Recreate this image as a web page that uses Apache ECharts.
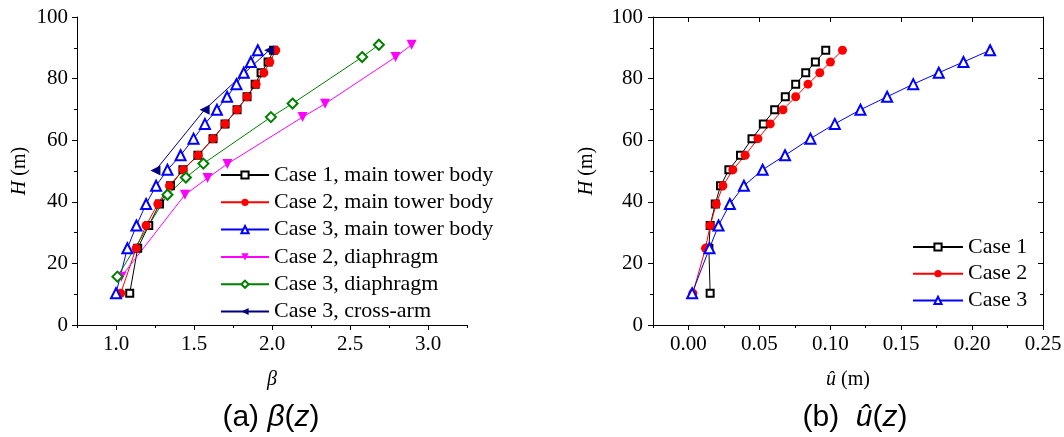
<!DOCTYPE html>
<html><head><meta charset="utf-8">
<script src="https://cdn.jsdelivr.net/npm/echarts@6/dist/echarts.min.js"></script>
<style>html,body{margin:0;padding:0;background:#fff}#c{width:1064px;height:437px}</style>
</head><body><div id="c"></div>
<script>
// ---- data ----
const towerH = [10.3, 24.9, 32.3, 39.3, 45.2, 50.4, 55.1, 60.5, 65.3, 69.9, 74.1, 78.2, 81.9, 85.4, 89.2];
const betaCase1Body = [1.088, 1.139, 1.210, 1.279, 1.349, 1.429, 1.525, 1.622, 1.699, 1.776, 1.840, 1.892, 1.930, 1.975, 2.010];
const betaCase2Body = [1.030, 1.129, 1.193, 1.268, 1.343, 1.431, 1.527, 1.622, 1.699, 1.776, 1.840, 1.898, 1.948, 1.986, 2.024];
const betaCase3Body = [1.000, 1.073, 1.131, 1.193, 1.257, 1.330, 1.414, 1.497, 1.570, 1.647, 1.712, 1.772, 1.819, 1.864, 1.909];
const diaphH2 = [15.7, 42.3, 47.7, 52.3, 67.5, 71.8, 87.0, 91.0];
const betaCase2Diaph = [1.034, 1.442, 1.587, 1.714, 2.196, 2.340, 2.792, 2.895];
const diaphH3 = [15.7, 42.3, 47.9, 52.4, 67.5, 71.9, 87.0, 91.0];
const betaCase3Diaph = [1.009, 1.330, 1.448, 1.560, 1.993, 2.132, 2.578, 2.685];
const crossArmH = [50.2, 69.9, 89.2];
const betaCase3Cross = [1.253, 1.568, 1.982];

const uCase1 = [0.0153, 0.0144, 0.0153, 0.0189, 0.0226, 0.0285, 0.0367, 0.0448, 0.0528, 0.0608, 0.0683, 0.0756, 0.0827, 0.0895, 0.0968];
const uCase2 = [0.0031, 0.0120, 0.0153, 0.0196, 0.0243, 0.0313, 0.0400, 0.0490, 0.0577, 0.0667, 0.0756, 0.0843, 0.0926, 0.1001, 0.1086];
const uCase3 = [0.0026, 0.0148, 0.0212, 0.0292, 0.0391, 0.0523, 0.0681, 0.0860, 0.1032, 0.1213, 0.1401, 0.1585, 0.1765, 0.1939, 0.2127];

const leftNames = ['Case 1, main tower body', 'Case 2, main tower body', 'Case 3, main tower body',
  'Case 2, diaphragm', 'Case 3, diaphragm', 'Case 3, cross-arm'];
const rightNames = ['Case 1', 'Case 2', 'Case 3'];

const betaMajorTicks = [1.0, 1.5, 2.0, 2.5, 3.0];
const betaMinorTicks = [0.75, 1.25, 1.75, 2.25, 2.75, 3.25];
const uMajorTicks = [0, 0.05, 0.10, 0.15, 0.20, 0.25];
const uMinorTicks = [-0.025, 0.025, 0.075, 0.125, 0.175, 0.225];

// ---- chart ----
const pair = (xs, ys) => xs.map((x, i) => [x, ys[i]]);
const serif = "'Liberation Serif', 'Times New Roman', 'DejaVu Serif', serif";
const sans = "'Liberation Sans', Arial, sans-serif";
const tickFont = { fontFamily: serif, fontSize: 21, color: '#000' };
const black = { color: '#000', width: 1 };

function mkSeries(name, data, xi, yi, color, symbol, size, rotate) {
  return {
    name, type: 'line', data, xAxisIndex: xi, yAxisIndex: yi,
    symbol, symbolSize: size, symbolRotate: rotate || 0, showSymbol: true,
    color, itemStyle: { color, borderWidth: 1 }, lineStyle: { color, width: 1 },
    emphasis: { disabled: true }, animation: false, clip: false
  };
}

const yName = { fontFamily: serif, fontSize: 20, color: '#000', rich: { i: { fontFamily: serif, fontSize: 20, fontStyle: 'italic', color: '#000' } } };
const legendText = { fontFamily: serif, fontSize: 22, lineHeight: 22, color: '#000' };

const option = {
  backgroundColor: '#fff',
  animation: false,
  textStyle: { fontFamily: serif },
  grid: [
    { left: 77, top: 17, width: 390, height: 308, outerBoundsMode: 'none', containLabel: false },
    { left: 653, top: 17, width: 390, height: 308, outerBoundsMode: 'none', containLabel: false }
  ],
  xAxis: [
    { gridIndex: 0, type: 'value', position: 'bottom', min: 0.75, max: 3.25,
      axisLine: { show: true, onZero: false, lineStyle: black },
      axisTick: { show: true, length: 5, customValues: betaMajorTicks, lineStyle: black },
      axisLabel: Object.assign({ margin: 9, customValues: betaMajorTicks, formatter: v => v.toFixed(1) }, tickFont),
      splitLine: { show: false },
      name: 'β', nameLocation: 'middle', nameGap: 45,
      nameTextStyle: { fontFamily: serif, fontSize: 20, fontStyle: 'italic', color: '#000' } },
    { gridIndex: 0, type: 'value', position: 'bottom', min: 0.75, max: 3.25,
      axisLine: { show: false }, axisLabel: { show: false }, splitLine: { show: false },
      axisTick: { show: true, length: 3, customValues: betaMinorTicks, lineStyle: black } },
    { gridIndex: 1, type: 'value', position: 'bottom', min: -0.025, max: 0.25,
      axisLine: { show: true, onZero: false, lineStyle: black },
      axisTick: { show: true, length: 5, customValues: uMajorTicks, lineStyle: black },
      axisLabel: Object.assign({ margin: 9, customValues: uMajorTicks, formatter: v => v.toFixed(2) }, tickFont),
      splitLine: { show: false },
      name: '{i|û} (m)', nameLocation: 'middle', nameGap: 45, nameTextStyle: yName },
    { gridIndex: 1, type: 'value', position: 'bottom', min: -0.025, max: 0.25,
      axisLine: { show: false }, axisLabel: { show: false }, splitLine: { show: false },
      axisTick: { show: true, length: 3, customValues: uMinorTicks, lineStyle: black } },
    { gridIndex: 1, type: 'value', position: 'top', min: -0.025, max: 0.25,
      axisLine: { show: true, onZero: false, lineStyle: black }, axisLabel: { show: false }, splitLine: { show: false },
      axisTick: { show: true, inside: true, length: 5, customValues: uMajorTicks, lineStyle: black } },
    { gridIndex: 1, type: 'value', position: 'top', min: -0.025, max: 0.25,
      axisLine: { show: false }, axisLabel: { show: false }, splitLine: { show: false },
      axisTick: { show: true, inside: true, length: 3, customValues: uMinorTicks, lineStyle: black } }
  ],
  yAxis: [
    { gridIndex: 0, type: 'value', position: 'left', min: 0, max: 100, interval: 20,
      axisLine: { show: true, onZero: false, lineStyle: black },
      axisTick: { show: true, length: 5, lineStyle: black },
      minorTick: { show: true, splitNumber: 2, length: 3, lineStyle: black },
      axisLabel: Object.assign({ margin: 9 }, tickFont),
      splitLine: { show: false }, minorSplitLine: { show: false },
      name: '{i|H} (m)', nameLocation: 'middle', nameGap: 47, nameTextStyle: yName },
    { gridIndex: 1, type: 'value', position: 'left', min: 0, max: 100, interval: 20,
      axisLine: { show: true, onZero: false, lineStyle: black },
      axisTick: { show: true, length: 5, lineStyle: black },
      minorTick: { show: true, splitNumber: 2, length: 3, lineStyle: black },
      axisLabel: Object.assign({ margin: 10 }, tickFont),
      splitLine: { show: false }, minorSplitLine: { show: false },
      name: '{i|H} (m)', nameLocation: 'middle', nameGap: 56, nameTextStyle: yName },
    { gridIndex: 1, type: 'value', position: 'right', min: 0, max: 100, interval: 20,
      axisLine: { show: true, onZero: false, lineStyle: black },
      axisTick: { show: true, inside: true, length: 5, lineStyle: black },
      minorTick: { show: true, splitNumber: 2, length: 3, lineStyle: black },
      axisLabel: { show: false }, splitLine: { show: false }, minorSplitLine: { show: false } }
  ],
  legend: [
    { data: leftNames, orient: 'vertical', left: 220, top: 164, padding: 0, itemWidth: 48, itemHeight: 9, itemGap: 5.3,
      selectedMode: false, textStyle: legendText },
    { data: rightNames, orient: 'vertical', left: 912, top: 236, padding: 0, itemWidth: 50, itemHeight: 9, itemGap: 4.7,
      selectedMode: false, textStyle: legendText }
  ],
  series: [
    mkSeries(leftNames[0], pair(betaCase1Body, towerH), 0, 0, '#000000', 'emptyRect', 7),
    mkSeries(leftNames[1], pair(betaCase2Body, towerH), 0, 0, '#ff0000', 'circle', 9),
    mkSeries(leftNames[2], pair(betaCase3Body, towerH), 0, 0, '#0000ff', 'emptyTriangle', 10),
    mkSeries(leftNames[3], pair(betaCase2Diaph, diaphH2), 0, 0, '#ff00ff', 'triangle', 10, 180),
    mkSeries(leftNames[4], pair(betaCase3Diaph, diaphH3), 0, 0, '#008000', 'emptyDiamond', 10),
    mkSeries(leftNames[5], pair(betaCase3Cross, crossArmH), 0, 0, '#000080', 'triangle', 10, 90),
    mkSeries(rightNames[0], pair(uCase1, towerH), 2, 1, '#000000', 'emptyRect', 7),
    mkSeries(rightNames[1], pair(uCase2, towerH), 2, 1, '#ff0000', 'circle', 9),
    mkSeries(rightNames[2], pair(uCase3, towerH), 2, 1, '#0000ff', 'emptyTriangle', 10)
  ],
  graphic: [
    { type: 'text', x: 271, y: 418, style: { text: '(a) {i|β}({i|z})', fontFamily: sans, fontSize: 30, fill: '#000',
        align: 'center', verticalAlign: 'middle',
        rich: { i: { fontFamily: sans, fontSize: 30, fontStyle: 'italic', fill: '#000' } } } },
    { type: 'text', x: 855, y: 418, style: { text: '(b)  {i|û}({i|z})', fontFamily: sans, fontSize: 30, fill: '#000',
        align: 'center', verticalAlign: 'middle',
        rich: { i: { fontFamily: sans, fontSize: 30, fontStyle: 'italic', fill: '#000' } } } }
  ]
};
const chart = echarts.init(document.getElementById('c'), null, { renderer: 'canvas' });
chart.setOption(option);
</script>
</body></html>
